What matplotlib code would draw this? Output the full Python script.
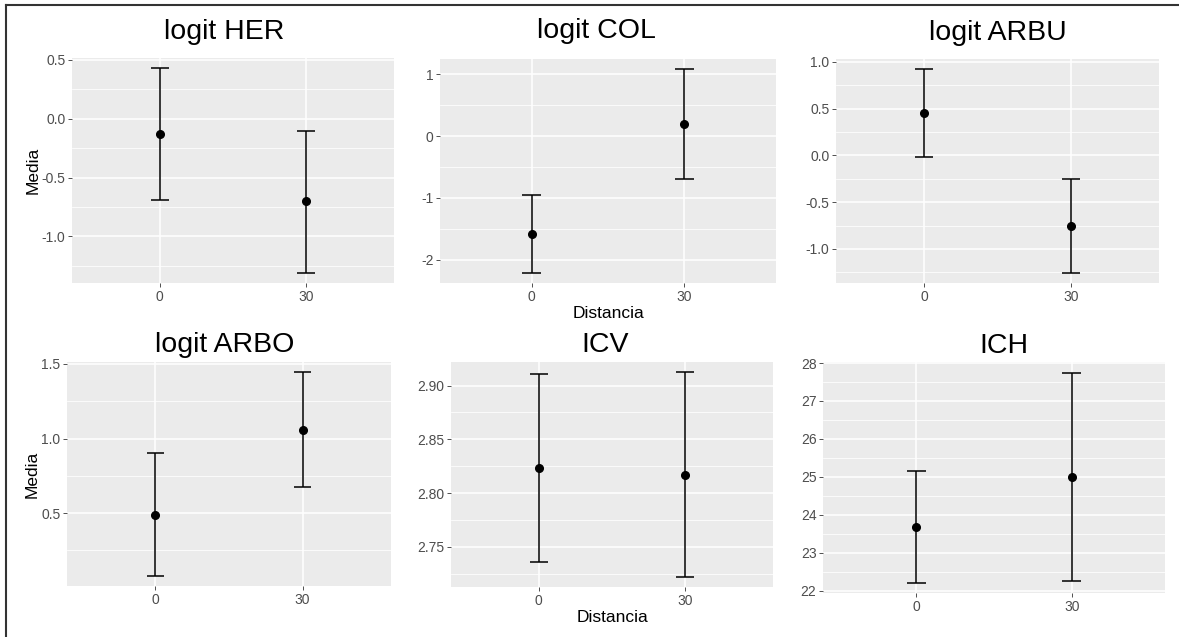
import numpy as np
import matplotlib
matplotlib.use("Agg")
import matplotlib.pyplot as plt
from matplotlib.lines import Line2D
from matplotlib.ticker import MultipleLocator, FormatStrFormatter

plt.rcParams["font.family"] = ["Liberation Sans", "DejaVu Sans"]
plt.rcParams["axes.unicode_minus"] = False

# data (mean, lower and upper end of the error bar)
distancia = ["0", "30"]

her_mean = [-0.13, -0.70]
her_low = [-0.69, -1.31]
her_up = [0.43, -0.10]

col_mean = [-1.58, 0.19]
col_low = [-2.21, -0.69]
col_up = [-0.95, 1.08]

arbu_mean = [0.45, -0.755]
arbu_low = [-0.02, -1.255]
arbu_up = [0.92, -0.255]

arbo_mean = [0.49, 1.06]
arbo_low = [0.08, 0.675]
arbo_up = [0.90, 1.445]

icv_mean = [2.823, 2.817]
icv_low = [2.7355, 2.722]
icv_up = [2.9105, 2.9125]

ich_mean = [23.69, 25.00]
ich_low = [22.22, 22.25]
ich_up = [25.16, 27.75]

W, H = 1179, 637
GREY = "#EBEBEB"


def draw_panel(box, title, mean, low, up, step, fmt, title_x, pad,
               ylabel=None, xlabel=None):
    left, top, right, bottom = box
    ax = fig.add_axes([left / W, 1 - bottom / H, (right - left) / W, (bottom - top) / H])
    ax.set_facecolor(GREY)
    for s in ax.spines.values():
        s.set_visible(False)

    x = np.arange(len(distancia))
    cap = 0.12
    ax.vlines(x, low, up, color="black", lw=1.1, zorder=3)
    ax.hlines(low, x - cap / 2, x + cap / 2, color="black", lw=1.1, zorder=3)
    ax.hlines(up, x - cap / 2, x + cap / 2, color="black", lw=1.1, zorder=3)
    ax.plot(x, mean, "o", color="black", ms=5.5, zorder=4)

    ax.set_xlim(-0.6, len(distancia) - 0.4)
    ax.set_xticks(x)
    ax.set_xticklabels(distancia)
    ax.margins(y=0.05)
    ax.yaxis.set_major_locator(MultipleLocator(step))
    ax.yaxis.set_minor_locator(MultipleLocator(step / 2))
    ax.yaxis.set_major_formatter(FormatStrFormatter(fmt))

    ax.grid(True, which="major", color="white", lw=1.1)
    ax.grid(True, which="minor", axis="y", color="white", lw=0.55)
    ax.set_axisbelow(True)
    ax.tick_params(which="major", length=2.75, width=0.6, color="#333333",
                   labelcolor="#4D4D4D", labelsize=10, pad=2)
    ax.tick_params(which="minor", length=0)

    ax.set_title(title, fontsize=20.5, x=title_x, pad=pad)
    if ylabel:
        ax.set_ylabel(ylabel, fontsize=12.5, labelpad=1)
    if xlabel:
        ax.set_xlabel(xlabel, fontsize=12.5, labelpad=2)
    return ax


fig = plt.figure(figsize=(W / 100, H / 100), dpi=100)

draw_panel((72, 58, 394, 283), "logit HER", her_mean, her_low, her_up,
           0.5, "%.1f", 0.472, 14, ylabel="Media")
draw_panel((440, 59, 776, 283), "logit COL", col_mean, col_low, col_up,
           1, "%d", 0.467, 15, xlabel="Distancia")
draw_panel((836, 59, 1159, 283), "logit ARBU", arbu_mean, arbu_low, arbu_up,
           0.5, "%.1f", 0.5, 14)
draw_panel((67, 362, 391, 586), "logit ARBO", arbo_mean, arbo_low, arbo_up,
           0.5, "%.1f", 0.488, 7, ylabel="Media")
draw_panel((451, 362, 773, 587), "ICV", icv_mean, icv_low, icv_up,
           0.05, "%.2f", 0.48, 7, xlabel="Distancia")
draw_panel((823, 362, 1165, 593), "ICH", ich_mean, ich_low, ich_up,
           1, "%d", 0.528, 6.5)

# screenshot frame (top and left edge only)
fig.add_artist(Line2D([6 / W, 1], [1 - 5 / H, 1 - 5 / H], transform=fig.transFigure,
                      color="#333333", lw=1.5))
fig.add_artist(Line2D([6 / W, 6 / W], [0, 1 - 5 / H], transform=fig.transFigure,
                      color="#333333", lw=1.5))

fig.savefig("out.png", dpi=100, facecolor="white")
